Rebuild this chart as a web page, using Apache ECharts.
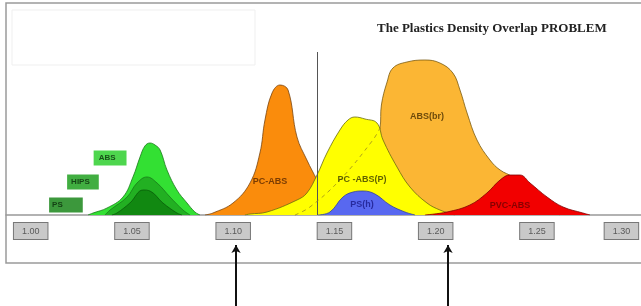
<!DOCTYPE html>
<html>
<head>
<meta charset="utf-8">
<script src="https://cdn.jsdelivr.net/npm/echarts@6.0.0/dist/echarts.min.js"></script>
<style>
html,body{margin:0;padding:0;background:#fff;}
#main{width:641px;height:306px;}
</style>
</head>
<body>
<div id="main"></div>
<script>
// density axis ticks
var densityTicks = [1.00, 1.05, 1.10, 1.15, 1.20, 1.25, 1.30];

// curves: [density, relative amount]
var absBr = [[1.1305,0],[1.1379,8],[1.1527,35],[1.1690,75],[1.1725,87],[1.1732,110],[1.1760,133],[1.1789,147],[1.1858,153],[1.1947,155],[1.2021,152],[1.2085,142],[1.2120,125],[1.2155,102],[1.2204,75],[1.2268,55],[1.2318,45],[1.2382,38],[1.2466,25],[1.2564,7],[1.2614,0]];
var pcAbs = [[1.0861,0],[1.0900,2],[1.0999,12],[1.1083,32],[1.1132,62],[1.1157,95],[1.1192,122],[1.1231,130],[1.1271,125],[1.1315,78],[1.1364,55],[1.1414,35],[1.1463,15],[1.1503,0]];
var pcAbsP = [[1.1058,0],[1.1083,1],[1.1167,3],[1.1315,15],[1.1364,22],[1.1414,40],[1.1463,62],[1.1527,85],[1.1567,95],[1.1601,98],[1.1651,96],[1.1710,92],[1.1740,75],[1.1809,48],[1.1873,28],[1.1957,12],[1.2021,5],[1.2095,0]];
var psH = [[1.1419,0],[1.1478,3],[1.1542,18],[1.1592,23],[1.1641,24],[1.1700,21],[1.1774,10],[1.1848,3],[1.1898,0]];
var pvcAbs = [[1.1947,0],[1.2056,3],[1.2169,10],[1.2253,22],[1.2318,35],[1.2367,40],[1.2416,40],[1.2466,32],[1.2550,18],[1.2629,8],[1.2727,2],[1.2762,0]];
var absGreen = [[1.0283,0],[1.0308,2],[1.0377,7],[1.0456,18],[1.0505,38],[1.0540,58],[1.0564,69],[1.0589,72],[1.0614,70],[1.0639,65],[1.0673,45],[1.0722,25],[1.0772,12],[1.0811,3],[1.0836,0]];
var hips = [[1.0367,0],[1.0392,5],[1.0476,18],[1.0525,32],[1.0574,38],[1.0624,32],[1.0688,18],[1.0752,5],[1.0787,0]];
var ps = [[1.0401,0],[1.0426,2],[1.0490,12],[1.0555,25],[1.0589,24],[1.0653,12],[1.0722,2],[1.0747,0]];

// overlap boundary and the two marked densities
var splitDensity = 1.1414;
var arrowDensities = [1.1014, 1.2061];

// curve captions
var curveLabels = [
  {name: 'PC-ABS', value: [1.1182, 33], color: '#5a2800'},
  {name: 'PC -ABS(P)', value: [1.1636, 35], color: '#3a3a00'},
  {name: 'ABS(br)', value: [1.1957, 98], color: '#4a3000'},
  {name: 'PS(h)', value: [1.1636, 10], color: '#1a1a8a'},
  {name: 'PVC-ABS', value: [1.2367, 9], color: '#6a0000'}
];
var greenLabels = [
  {name: 'ABS', value: [1.0392, 57], bg: '#22cc22', pad: [4, 11, 3, 5]},
  {name: 'HIPS', value: [1.0258, 33], bg: '#119a11', pad: [4, 9, 3, 4]},
  {name: 'PS', value: [1.0174, 10], bg: '#0b7e0b', pad: [4, 20, 3, 3]}
];

var xMin = 0.9878, xMax = 1.3014;

function curve(name, data, fill, edge, z) {
  return {
    name: name, type: 'line', data: data, smooth: 0.4, symbol: 'none', z: z,
    xAxisIndex: 0, yAxisIndex: 0,
    lineStyle: {color: edge, width: 0.8},
    areaStyle: {color: fill, opacity: 1}
  };
}

var chart = echarts.init(document.getElementById('main'));
chart.setOption({
  animation: false,
  title: {
    text: 'The Plastics Density Overlap PROBLEM',
    left: 372, top: 17,
    textStyle: {fontFamily: 'Liberation Serif', fontWeight: 'bold', fontSize: 13, color: '#222'}
  },
  graphic: [
    {type: 'rect', shape: {x: 6, y: 3, width: 640, height: 260}, style: {fill: 'none', stroke: '#9a9a9a', lineWidth: 1.5}, silent: true},
    {type: 'rect', shape: {x: 12, y: 10, width: 243, height: 55}, style: {fill: 'none', stroke: '#efefef', lineWidth: 1}, silent: true}
  ],
  grid: [
    {left: 6, right: 0, top: 50, bottom: 91, outerBoundsMode: 'none'},
    {left: 6, right: 0, top: 245, bottom: 0, outerBoundsMode: 'none'}
  ],
  xAxis: [
    {
      type: 'value', gridIndex: 0, min: xMin, max: xMax,
      axisLine: {show: true, lineStyle: {color: '#999', width: 1.5}},
      axisTick: {show: false},
      splitLine: {show: false},
      axisLabel: {
        customValues: densityTicks,
        alignMaxLabel: 'right',
        formatter: function (v) { return v.toFixed(2); },
        margin: 8,
        fontFamily: 'Arial', fontSize: 9, color: '#5a5a5a',
        backgroundColor: '#c9c9c9', borderColor: '#777', borderWidth: 1,
        padding: [4, 8, 3, 8]
      }
    },
    {type: 'value', gridIndex: 1, min: xMin, max: xMax, show: false}
  ],
  yAxis: [
    {type: 'value', gridIndex: 0, min: 0, max: 165, show: false},
    {type: 'value', gridIndex: 1, min: 0, max: 1, show: false}
  ],
  series: [
    curve('ABS(br)', absBr, '#fbb634', '#7a5a10', 2),
    curve('PC-ABS', pcAbs, '#fa8c0c', '#7a4510', 3),
    curve('PC -ABS(P)', pcAbsP, '#ffff00', '#6a6a10', 4),
    {
      name: 'ABS(br) hidden edge', type: 'line', data: absBr.slice(0, 5), smooth: 0.4,
      symbol: 'none', z: 5,
      lineStyle: {color: '#9a8a20', width: 0.8, type: [4, 4]}
    },
    curve('PS(h)', psH, '#5868f0', '#3040a0', 6),
    curve('PVC-ABS', pvcAbs, '#f20000', '#800000', 7),
    curve('ABS', absGreen, '#33e033', '#1a7a1a', 8),
    curve('HIPS', hips, '#22b022', '#1a7a1a', 9),
    curve('PS', ps, '#118811', '#0a5a0a', 10),
    {
      name: 'split', type: 'line', data: [], z: 11,
      markLine: {
        silent: true, symbol: 'none', label: {show: false},
        lineStyle: {color: '#555', width: 1, type: 'solid'},
        data: [[{coord: [splitDensity, 0]}, {coord: [splitDensity, 163]}]]
      }
    },
    {
      name: 'captions', type: 'scatter', symbolSize: 0, z: 12,
      data: curveLabels.map(function (d) {
        return {
          name: d.name, value: d.value,
          label: {show: true, position: 'inside', formatter: '{b}', color: d.color,
            fontFamily: 'Arial', fontWeight: 'bold', fontSize: 9}
        };
      })
    },
    {
      name: 'green captions', type: 'scatter', symbolSize: 0, z: 12,
      data: greenLabels.map(function (d) {
        return {
          name: d.name, value: d.value,
          label: {show: true, position: 'inside', formatter: '{b}', color: '#0a2a0a',
            fontFamily: 'Arial', fontWeight: 'bold', fontSize: 8,
            backgroundColor: d.bg, padding: d.pad}
        };
      })
    },
    {
      name: 'arrows', type: 'line', data: [], xAxisIndex: 1, yAxisIndex: 1,
      markLine: {
        silent: true, symbol: ['none', 'arrow'], symbolSize: [7, 8], label: {show: false},
        lineStyle: {color: '#111', width: 2, type: 'solid'},
        data: arrowDensities.map(function (x) {
          return [{coord: [x, 0]}, {coord: [x, 1]}];
        })
      }
    }
  ]
});
</script>
</body>
</html>
